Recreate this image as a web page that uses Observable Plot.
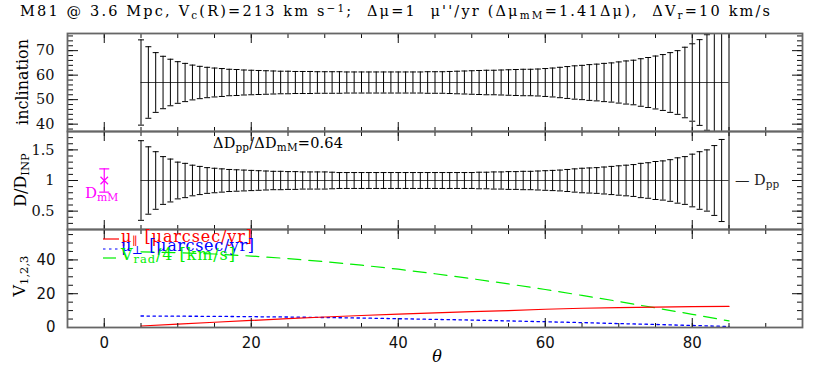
<!DOCTYPE html>
<html><head><meta charset="utf-8">
<script src="https://cdn.jsdelivr.net/npm/d3@7"></script>
<script src="https://cdn.jsdelivr.net/npm/@observablehq/plot@0.6"></script>
<style>
body{margin:0;background:#fff;}
#chart{position:relative;width:830px;height:372px;overflow:hidden;background:#fff}
#chart svg{position:absolute;left:0;overflow:visible;max-width:none}
</style></head><body><div id="chart"></div>
<script>
// ---------------- data ----------------
const theta = [5,6,7,8,9,10,11,12,13,14,15,16,17,18,19,20,21,22,23,24,25,26,27,28,29,30,31,32,33,34,35,36,37,38,39,40,41,42,43,44,45,46,47,48,49,50,51,52,53,54,55,56,57,58,59,60,61,62,63,64,65,66,67,68,69,70,71,72,73,74,75,76,77,78,79,80,81,82,83,84,85];
const incCenter = 57;
const incErr = [17.4,14.6,12.2,10.7,9.5,8.5,7.8,7.1,6.6,6.2,5.9,5.7,5.4,5.3,5.1,5.0,4.9,4.8,4.7,4.6,4.6,4.5,4.5,4.5,4.4,4.4,4.4,4.4,4.3,4.3,4.3,4.3,4.3,4.3,4.3,4.3,4.3,4.3,4.3,4.4,4.4,4.4,4.5,4.6,4.7,4.8,4.9,5.0,5.0,5.1,5.2,5.3,5.4,5.4,5.5,5.7,5.9,6.2,6.5,6.8,7.0,7.3,7.5,7.8,8.0,8.4,8.8,9.1,9.7,10.2,10.8,11.4,12.2,13.0,14.4,15.8,17.5,19.5,23,28,35];
const ratioCenter = 1;
const ratioErr = [0.65,0.55,0.47,0.39,0.35,0.30,0.28,0.25,0.23,0.21,0.20,0.19,0.18,0.175,0.17,0.165,0.16,0.155,0.15,0.15,0.145,0.145,0.14,0.14,0.14,0.14,0.135,0.13,0.13,0.13,0.13,0.13,0.13,0.13,0.13,0.13,0.13,0.13,0.13,0.13,0.13,0.13,0.13,0.13,0.13,0.13,0.135,0.135,0.14,0.14,0.145,0.145,0.15,0.15,0.155,0.16,0.165,0.17,0.18,0.19,0.20,0.205,0.21,0.22,0.23,0.24,0.25,0.26,0.28,0.29,0.31,0.32,0.34,0.37,0.39,0.43,0.47,0.50,0.57,0.67,0.9];
const mmTheta = [0];
const mmRatio = [1];
const mmErr = [0.19];
const thetaV = [5,10,15,20,25,30,35,40,45,50,55,60,65,70,75,80,85];
const muPar  = [0.9,2.0,3.1,4.2,5.2,6.2,7.1,7.9,8.7,9.4,10.0,10.8,11.4,11.8,12.1,12.3,12.5];
const muPerp = [6.8,6.7,6.6,6.4,6.2,5.9,5.6,5.2,4.8,4.4,3.9,3.4,2.9,2.3,1.8,1.2,0.6];
const vrad4  = [44.8,44.3,43.5,42.3,40.8,39.0,36.9,34.5,31.8,28.9,25.8,22.5,19.0,15.4,11.6,7.8,3.9];
const xMajor = [0,20,40,60,80];
const xMinor = [-5,0,5,10,15,20,25,30,35,40,45,50,55,60,65,70,75,80,85,90,95];
const incMajor = [40,50,60,70];
const incMinor = [38,40,42,44,46,48,50,52,54,56,58,60,62,64,66,68,70,72,74,76];
const ratioMajor = [0.5,1,1.5];
const ratioMinor = [0.2,0.3,0.4,0.5,0.6,0.7,0.8,0.9,1,1.1,1.2,1.3,1.4,1.5,1.6,1.7,1.8];
const vMajor = [0,20,40];
const vMinor = [0,5,10,15,20,25,30,35,40,45,50,55];

// ---------------- layout ----------------
const W = 830, ML = 67, MR = 28, PH = 98;
const tops = [33, 131, 229];
const chart = document.getElementById("chart");
const capSymbol = {draw(ctx){ ctx.moveTo(-3,0); ctx.lineTo(3,0); }};
const capSymbolBig = {draw(ctx){ ctx.moveTo(-5,0); ctx.lineTo(5,0); }};

function frameMarks(yMaj, yMin) {
  const tk = {fill: "none", stroke: "#111", strokeWidth: 1};
  return [
    Plot.axisY(yMaj, {...tk, anchor: "right", frameAnchor: "left", tickSize: 10}),
    Plot.axisY(yMin, {...tk, anchor: "right", frameAnchor: "left", tickSize: 5}),
    Plot.axisY(yMaj, {...tk, anchor: "left", frameAnchor: "right", tickSize: 10}),
    Plot.axisY(yMin, {...tk, anchor: "left", frameAnchor: "right", tickSize: 5}),
    Plot.axisX(xMajor, {...tk, anchor: "bottom", frameAnchor: "top", tickSize: 10}),
    Plot.axisX(xMinor, {...tk, anchor: "bottom", frameAnchor: "top", tickSize: 5}),
    Plot.axisX(xMajor, {...tk, anchor: "top", frameAnchor: "bottom", tickSize: 10}),
    Plot.axisX(xMinor, {...tk, anchor: "top", frameAnchor: "bottom", tickSize: 5}),
    Plot.frame({stroke: "#666", strokeWidth: 1.8})
  ];
}
function place(svg, top) {
  svg.style.top = top + "px";
  svg.style.overflow = "visible";
  chart.appendChild(svg);
}
const base = {width: W, height: PH, marginLeft: ML, marginRight: MR, marginTop: 0, marginBottom: 0,
  x: {domain: [-5, 95]}};

// Panel 1: inclination
const incData = theta.map((t, i) => ({t, lo: incCenter - incErr[i], hi: incCenter + incErr[i]}));
const p1 = Plot.plot({
  ...base,
  style: {fontFamily: "DejaVu Serif", fontSize: "14.5px", background: "transparent"},
  y: {domain: [37, 77]},
  marks: [
    Plot.ruleY([incCenter], {x1: theta[0], x2: theta[theta.length - 1], stroke: "#444", strokeWidth: 1}),
    Plot.ruleX(incData, {x: "t", y1: "lo", y2: "hi", stroke: "#000", strokeWidth: 1, clip: true}),
    Plot.dot(incData, {x: "t", y: "lo", symbol: capSymbol, stroke: "#000", fill: "none", strokeWidth: 1, clip: true}),
    Plot.dot(incData, {x: "t", y: "hi", symbol: capSymbol, stroke: "#000", fill: "none", strokeWidth: 1, clip: true}),
    ...frameMarks(incMajor, incMinor),
    Plot.axisY(incMajor, {anchor: "left", tickSize: 0, tickPadding: 13, label: null, tickFormat: d => String(d), fill: "#111"})
  ]
});
place(p1, tops[0]);

// Panel 2: D/D_INP
const ratioData = theta.map((t, i) => ({t, lo: ratioCenter - ratioErr[i], hi: ratioCenter + ratioErr[i]}));
const mmData = mmTheta.map((t, i) => ({t, v: mmRatio[i], lo: mmRatio[i] - mmErr[i], hi: mmRatio[i] + mmErr[i]}));
const p2 = Plot.plot({
  ...base,
  style: {fontFamily: "DejaVu Serif", fontSize: "14.5px", background: "transparent"},
  y: {domain: [0.2, 1.8]},
  marks: [
    Plot.ruleY([ratioCenter], {x1: theta[0], x2: theta[theta.length - 1], stroke: "#444", strokeWidth: 1}),
    Plot.ruleX(ratioData, {x: "t", y1: "lo", y2: "hi", stroke: "#000", strokeWidth: 1, clip: true}),
    Plot.dot(ratioData, {x: "t", y: "lo", symbol: capSymbol, stroke: "#000", fill: "none", strokeWidth: 1, clip: true}),
    Plot.dot(ratioData, {x: "t", y: "hi", symbol: capSymbol, stroke: "#000", fill: "none", strokeWidth: 1, clip: true}),
    Plot.ruleX(mmData, {x: "t", y1: "lo", y2: "hi", stroke: "#ff00ff", strokeWidth: 1.2}),
    Plot.dot(mmData, {x: "t", y: "lo", symbol: capSymbolBig, stroke: "#ff00ff", fill: "none", strokeWidth: 1.2}),
    Plot.dot(mmData, {x: "t", y: "hi", symbol: capSymbolBig, stroke: "#ff00ff", fill: "none", strokeWidth: 1.2}),
    Plot.dot(mmData, {x: "t", y: "v", symbol: "times", r: 3.5, stroke: "#ff00ff", strokeWidth: 1.2}),
    ...frameMarks(ratioMajor, ratioMinor),
    Plot.axisY(ratioMajor, {anchor: "left", tickSize: 0, tickPadding: 13, label: null, tickFormat: d => String(d), fill: "#111"})
  ]
});
place(p2, tops[1]);

// Panel 3: V_1,2,3
const vData = [];
thetaV.forEach((t, i) => {
  vData.push({t, v: muPar[i], s: "par"});
  vData.push({t, v: muPerp[i], s: "perp"});
  vData.push({t, v: vrad4[i], s: "vrad"});
});
const p3 = Plot.plot({
  ...base,
  style: {fontFamily: "DejaVu Sans", fontSize: "15px", background: "transparent"},
  y: {domain: [0, 58]},
  marks: [
    Plot.line(vData.filter(d => d.s === "vrad"), {x: "t", y: "v", stroke: "#00ee00", strokeWidth: 1.2, strokeDasharray: "13,8", clip: true}),
    Plot.line(vData.filter(d => d.s === "perp"), {x: "t", y: "v", stroke: "#0000ff", strokeWidth: 1.3, strokeDasharray: "2.5,3.5", clip: true}),
    Plot.line(vData.filter(d => d.s === "par"), {x: "t", y: "v", stroke: "#ff0000", strokeWidth: 1.2, clip: true}),
    ...frameMarks(vMajor, vMinor),
    Plot.axisY(vMajor, {anchor: "left", tickSize: 0, tickPadding: 12, label: null, tickFormat: d => String(d), fill: "#111"}),
    Plot.axisX(xMajor, {anchor: "bottom", tickSize: 0, tickPadding: 10, label: null, tickFormat: d => String(d), fill: "#111"})
  ]
});
place(p3, tops[2]);

// ---------------- annotations overlay ----------------
const ov = d3.select(chart).append("svg")
  .attr("width", W).attr("height", 372)
  .style("top", "0px").style("pointer-events", "none")
  .attr("font-family", "DejaVu Serif");

function addText(x, y, parts, {size = 14, fill = "#000", anchor = "start", rotate = 0, italic = false, length = null} = {}) {
  const t = ov.append("text").attr("x", x).attr("y", y)
    .attr("font-size", size).attr("fill", fill).attr("text-anchor", anchor)
    .style("white-space", "pre");
  if (italic) t.attr("font-style", "italic");
  if (rotate) t.attr("transform", `rotate(${rotate},${x},${y})`);
  if (length) t.attr("textLength", length).attr("lengthAdjust", "spacing");
  parts.forEach(p => {
    const [s, kind] = Array.isArray(p) ? p : [p, "n"];
    const ts = t.append("tspan").text(s);
    if (kind === "sub") ts.attr("baseline-shift", "-28%").attr("font-size", size * 0.72);
    if (kind === "sup") ts.attr("baseline-shift", "38%").attr("font-size", size * 0.72);
  });
  return t;
}

// title
addText(20, 16, ["M81 @ 3.6 Mpc, V", ["c", "sub"], "(R)=213 km s", ["\u22121", "sup"], ";  \u0394\u03bc=1  \u03bc''/yr (\u0394\u03bc", ["mM", "sub"], "=1.41\u0394\u03bc),  \u0394V", ["r", "sub"], "=10 km/s"], {size: 14.5, length: 750});

// axis titles
addText(28, 82, ["inclination"], {size: 16, anchor: "middle", rotate: -90});
addText(26, 180, ["D/D", ["INP", "sub"]], {size: 16, anchor: "middle", rotate: -90});
addText(25, 276, ["V", ["1,2,3", "sub"]], {size: 16, anchor: "middle", rotate: -90});
addText(437, 362, ["\u03b8"], {size: 16, anchor: "middle", italic: true});

// panel-2 annotations
addText(213, 148, ["\u0394D", ["pp", "sub"], "/\u0394D", ["mM", "sub"], "=0.64"], {size: 14.5, length: 130});
addText(735, 185, ["\u2014 D", ["pp", "sub"]], {size: 14.5, fill: "#222"});
addText(85, 198, ["D", ["mM", "sub"]], {size: 15, fill: "#ff00ff"});

// legend (panel 3)
const leg = [
  {y: 239, color: "#ff0000", dash: null, parts: ["\u03bc", ["\u2225", "sub"], " [\u03bcarcsec/yr]"], base: 242, len: 131},
  {y: 249, color: "#0000ff", dash: "2.5,3.5", parts: ["\u03bc", ["\u22a5", "sub"], " [\u03bcarcsec/yr]"], base: 251, len: 133},
  {y: 258, color: "#00ee00", dash: "13,8", parts: ["V", ["rad", "sub"], "/4 [km/s]"], base: 260, len: 114}
];
leg.forEach(l => {
  const ln = ov.append("line").attr("x1", 103).attr("x2", 119).attr("y1", l.y).attr("y2", l.y)
    .attr("stroke", l.color).attr("stroke-width", 1.2);
  if (l.dash) ln.attr("stroke-dasharray", l.dash);
  addText(121, l.base, l.parts, {size: 16, fill: l.color, length: l.len});
});
</script>
</body></html>
